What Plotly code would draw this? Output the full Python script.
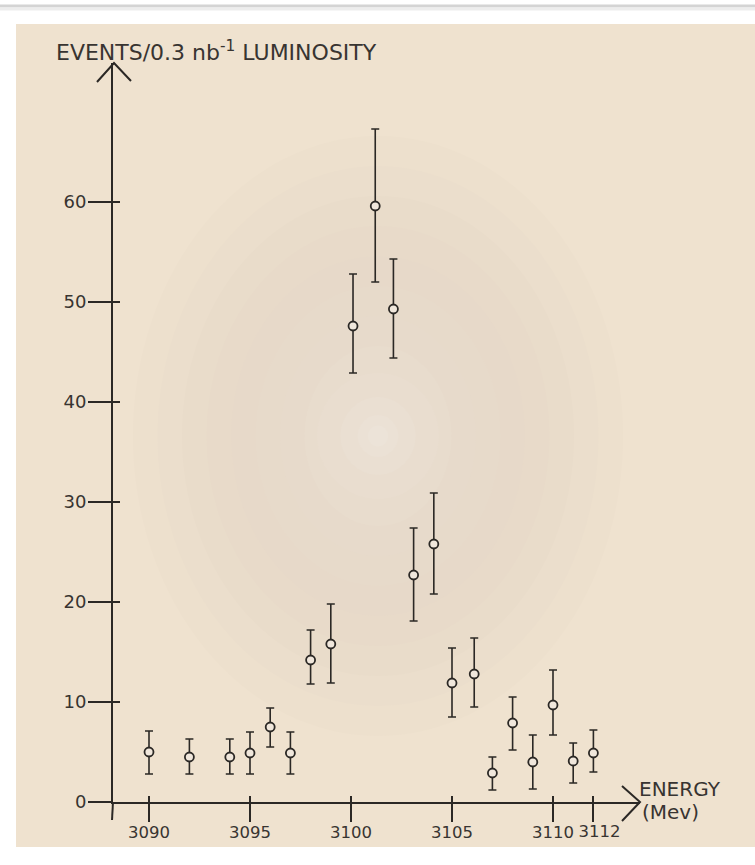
import plotly.graph_objects as go

# ---------------- data ----------------
energy = [3090, 3092, 3094, 3095, 3096, 3097, 3098, 3099, 3100.1, 3101.2, 3102.1,
          3103.1, 3104.1, 3105, 3106.1, 3107, 3108, 3109, 3110, 3111, 3112]
events = [5.0, 4.5, 4.5, 4.9, 7.5, 4.9, 14.2, 15.8, 47.6, 59.6, 49.3,
          22.7, 25.8, 11.9, 12.8, 2.9, 7.9, 4.0, 9.7, 4.1, 4.9]
err_plus = [2.1, 1.8, 1.8, 2.1, 1.9, 2.1, 3.0, 4.0, 5.2, 7.7, 5.0,
            4.7, 5.1, 3.5, 3.6, 1.6, 2.6, 2.7, 3.5, 1.8, 2.3]
err_minus = [2.2, 1.7, 1.7, 2.1, 2.0, 2.1, 2.4, 3.9, 4.7, 7.6, 4.9,
             4.6, 5.0, 3.4, 3.3, 1.7, 2.7, 2.7, 3.0, 2.2, 1.9]

x_tickvals = [3090, 3095, 3100, 3105, 3110, 3112]
x_ticktext = ["3090", "3095", "3100", "3105", "3110", "3112"]
y_tickvals = [0, 10, 20, 30, 40, 50, 60]
y_ticktext = ["0", "10", "20", "30", "40", "50", "60"]

title_text = "EVENTS/0.3 nb<sup>-1</sup> LUMINOSITY"
xlabel_1 = "ENERGY"
xlabel_2 = "(Mev)"

# ---------------- layout geometry ----------------
WID, HEI = 755, 865
L, R, T, B = 113, 640, 63, 802          # plot-area edges in pixels
PW, PH = R - L, B - T

def px(x):
    return (x - L) / PW

def py(y):
    return (B - y) / PH

INK = "#2b2825"
TXT = "#383431"
PAPER = "#EFE2CF"
FONT = "DejaVu Sans"

fig = go.Figure()

fig.add_trace(go.Scatter(
    x=energy, y=events, mode="markers",
    marker=dict(symbol="circle", size=9, color="#F0E7DC",
                line=dict(color=INK, width=1.8)),
    error_y=dict(type="data", symmetric=False, array=err_plus, arrayminus=err_minus,
                 color=INK, thickness=1.6, width=4),
    cliponaxis=False, showlegend=False, hoverinfo="x+y",
))
# traces carrying the overlay axes (inner half of crossing ticks, last label)
fig.add_trace(go.Scatter(x=energy, y=events, mode="none", xaxis="x2", yaxis="y2",
                         showlegend=False, hoverinfo="skip"))
fig.add_trace(go.Scatter(x=energy, y=events, mode="none", xaxis="x3", yaxis="y",
                         showlegend=False, hoverinfo="skip"))

xr = [3090 - (149 - L) / 20.2, 3090 + (R - 149) / 20.2]
yr = [0, (B - T) / 10.0]

# the last two labels sit close together: the final one goes on its own overlay axis
main_text = x_ticktext[:-1] + [""]
last_val, last_text = x_tickvals[-1:], x_ticktext[-1:]

shapes = []
# white page, grey edge line at top, beige paper sheet
shapes.append(dict(type="line", xref="paper", yref="paper", x0=px(0), x1=px(WID),
                   y0=py(6), y1=py(6), line=dict(color="#D4D4D4", width=3), layer="below"))
shapes.append(dict(type="line", xref="paper", yref="paper", x0=px(0), x1=px(WID),
                   y0=py(9), y1=py(9), line=dict(color="#EDEDED", width=3), layer="below"))
shapes.append(dict(type="rect", xref="paper", yref="paper", x0=px(16), x1=px(WID + 5),
                   y0=py(847), y1=py(24), fillcolor=PAPER, line=dict(width=0), layer="below"))
# soft radial vignette on the paper
cx, cy = 378, 436
rings = [(1.00, "#EDE0CD"), (0.90, "#EBDECC"), (0.80, "#E9DCCA"), (0.70, "#E8DAC9"),
         (0.60, "#E7D9C9"), (0.50, "#E7DACA"), (0.40, "#E7DACB"), (0.30, "#E8DCCD"),
         (0.21, "#E9DDCF"), (0.13, "#EADFD2"), (0.07, "#EBE1D5"), (0.035, "#ECE3D8")]
for f, col in rings:
    rx, ry = 245 * f, 300 * f
    if f < 0.3:
        rx, ry = 290 * f, 300 * f
    shapes.append(dict(type="circle", xref="paper", yref="paper",
                       x0=px(cx - rx), x1=px(cx + rx), y0=py(cy + ry), y1=py(cy - ry),
                       fillcolor=col, line=dict(width=0), layer="below"))
# y-axis runs a little below the x-axis
shapes.append(dict(type="line", xref="paper", yref="paper", x0=px(113), x1=px(112),
                   y0=py(802), y1=py(820), line=dict(color=INK, width=2)))
# open arrow heads
shapes.append(dict(type="path", xref="paper", yref="paper",
                   path=f"M {px(622)},{py(786)} L {px(640)},{py(802)} L {px(622)},{py(821)}",
                   line=dict(color=INK, width=2)))
shapes.append(dict(type="path", xref="paper", yref="paper",
                   path=f"M {px(97)},{py(82)} L {px(114)},{py(63)} L {px(131)},{py(81)}",
                   line=dict(color=INK, width=2)))

annotations = [
    dict(text=title_text, xref="paper", yref="paper", x=px(54), y=py(51),
         xanchor="left", yanchor="middle", showarrow=False,
         font=dict(family=FONT, size=22, color=TXT)),
    dict(text=xlabel_1, xref="paper", yref="paper", x=px(637), y=py(789),
         xanchor="left", yanchor="middle", showarrow=False,
         font=dict(family=FONT, size=20, color=TXT)),
    dict(text=xlabel_2, xref="paper", yref="paper", x=px(640), y=py(812),
         xanchor="left", yanchor="middle", showarrow=False,
         font=dict(family=FONT, size=20, color=TXT)),
]

xfont = dict(family=FONT, size=16.5, color=TXT)

fig.update_layout(
    width=WID, height=HEI,
    margin=dict(l=L, r=WID - R, t=T, b=HEI - B, pad=0, autoexpand=False),
    paper_bgcolor="white", plot_bgcolor="rgba(0,0,0,0)",
    shapes=shapes, annotations=annotations,
    xaxis=dict(range=xr, tickvals=x_tickvals, ticktext=main_text, tickangle=0,
               automargin=False, ticklabelstandoff=-4,
               showgrid=False, zeroline=False, showline=True, linecolor=INK, linewidth=2,
               ticks="outside", ticklen=18, tickwidth=2, tickcolor=INK,
               tickfont=xfont, fixedrange=True),
    yaxis=dict(range=yr, tickvals=y_tickvals, ticktext=y_ticktext, automargin=False,
               ticklabelstandoff=-2,
               showgrid=False, zeroline=False, showline=True, linecolor=INK, linewidth=2,
               ticks="outside", ticklen=23, tickwidth=2, tickcolor=INK,
               tickfont=dict(family=FONT, size=18, color=TXT), fixedrange=True),
    xaxis2=dict(range=xr, overlaying="x", anchor="y", side="bottom", automargin=False,
                tickvals=x_tickvals, showticklabels=False, showgrid=False,
                zeroline=False, showline=False, ticks="inside", ticklen=6,
                tickwidth=2, tickcolor=INK, fixedrange=True),
    xaxis3=dict(range=xr, overlaying="x", anchor="y", side="bottom", automargin=False,
                tickvals=last_val, ticktext=last_text, tickangle=0,
                ticks="outside", ticklen=18, tickwidth=0, tickcolor="rgba(0,0,0,0)",
                ticklabelstandoff=-4, ticklabelshift=6,
                showgrid=False, zeroline=False, showline=False,
                tickfont=xfont, fixedrange=True),
    yaxis2=dict(range=yr, overlaying="y", anchor="x", side="left", automargin=False,
                tickvals=y_tickvals, showticklabels=False, showgrid=False,
                zeroline=False, showline=False, ticks="inside", ticklen=7,
                tickwidth=2, tickcolor=INK, fixedrange=True),
)

fig.write_html("out.html", config={"displayModeBar": False},
               post_script="document.body.style.margin='0px';")
